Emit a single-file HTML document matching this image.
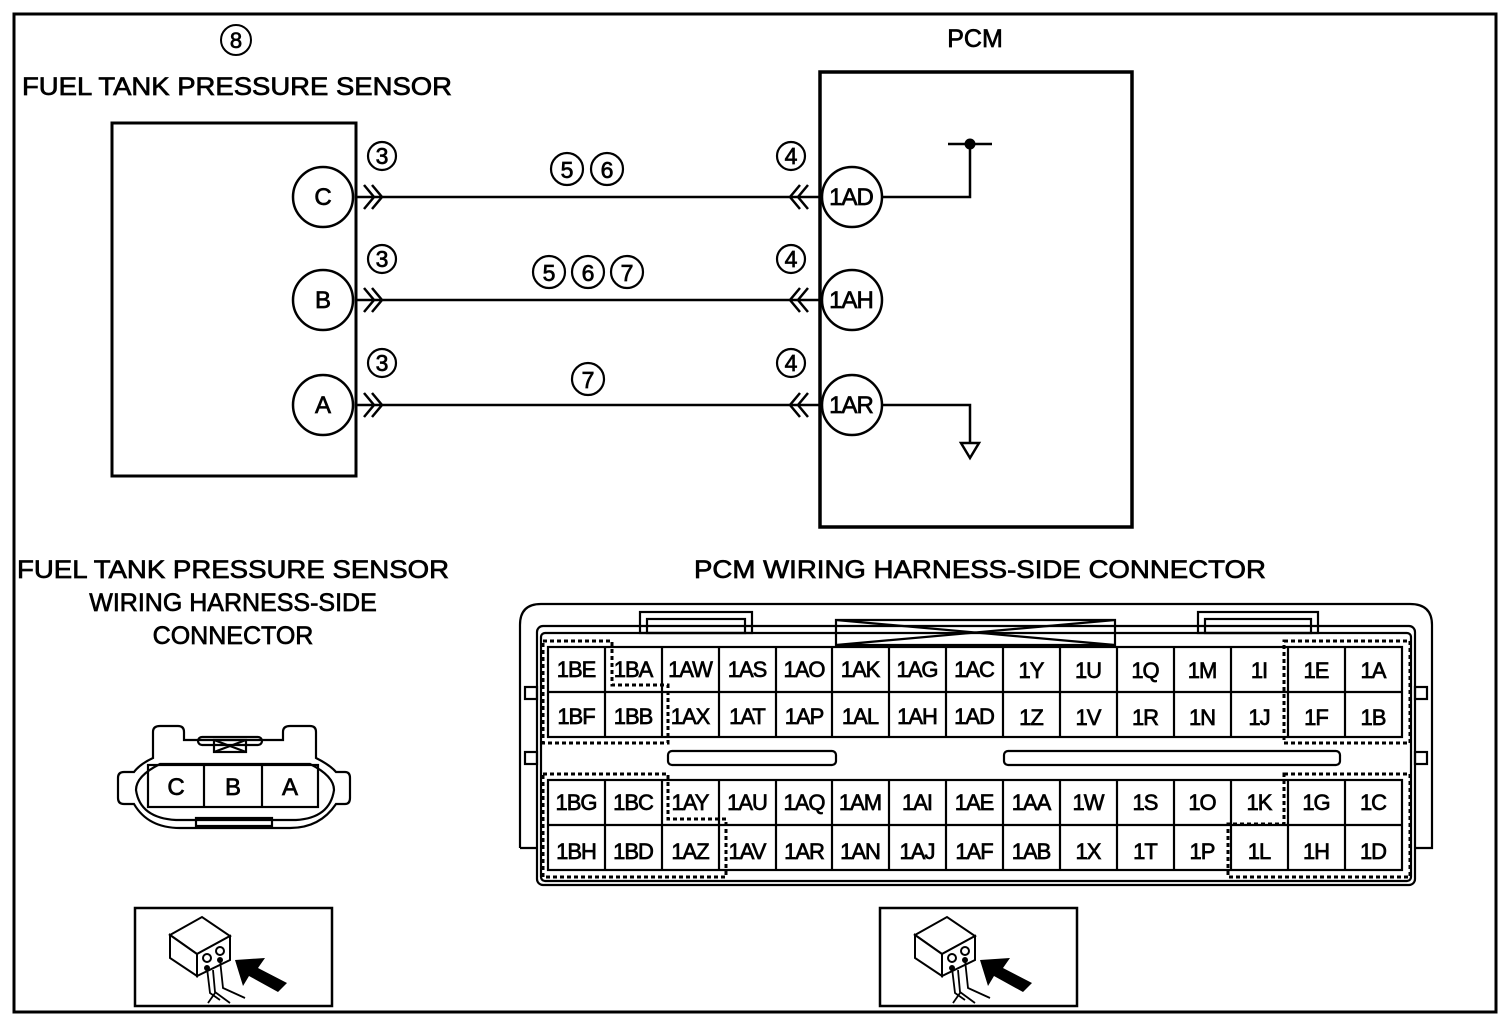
<!DOCTYPE html>
<html><head><meta charset="utf-8"><style>
html,body{margin:0;padding:0;background:#fff}
svg{display:block}
text{font-family:"Liberation Sans",sans-serif;fill:#000;stroke:#000;stroke-width:0.7}
</style></head><body>
<svg width="1510" height="1030" viewBox="0 0 1510 1030" xmlns="http://www.w3.org/2000/svg">
<defs>
<g id="icon">
<rect x="0" y="0" width="197" height="98" fill="#fff" stroke="#000" stroke-width="2.5"/>
<polygon points="35,27 67,9 95,28 62,46" fill="#fff" stroke="#000" stroke-width="2"/>
<polygon points="35,27 62,46 62,68 35,50" fill="#fff" stroke="#000" stroke-width="2"/>
<polygon points="62,46 95,28 95,52 62,68" fill="#fff" stroke="#000" stroke-width="2"/>
<circle cx="72" cy="50" r="4" fill="none" stroke="#000" stroke-width="2"/>
<circle cx="85" cy="43" r="4" fill="none" stroke="#000" stroke-width="2"/>
<circle cx="72" cy="60" r="3" fill="#000"/>
<circle cx="85" cy="52" r="3" fill="#000"/>
<path d="M72,60 L75,85 L85,92 M85,52 L88,80 L110,90 M78,62 L80,84 L95,95 M80,85 L73,95" fill="none" stroke="#000" stroke-width="1.8"/>
<polygon points="100,52 130,50 123,60 152,75 143,84 114,68 108,78" fill="#000"/>
</g>
</defs>
<rect x="14" y="14" width="1482" height="998" fill="none" stroke="#000" stroke-width="3"/>

<circle cx="236" cy="40" r="15" fill="none" stroke="#000" stroke-width="2"/>
<text x="236" y="48" font-size="22" text-anchor="middle">8</text>
<text x="22" y="95" font-size="25" textLength="430" lengthAdjust="spacingAndGlyphs">FUEL TANK PRESSURE SENSOR</text>
<text x="975" y="47" font-size="25" text-anchor="middle">PCM</text>

<rect x="112" y="123" width="244" height="353" fill="none" stroke="#000" stroke-width="3"/>
<rect x="820" y="72" width="312" height="455" fill="none" stroke="#000" stroke-width="3.5"/>

<g stroke="#000" stroke-width="2.5" fill="none">
<line x1="356" y1="197" x2="822" y2="197"/>
<line x1="356" y1="300" x2="822" y2="300"/>
<line x1="356" y1="405" x2="822" y2="405"/>
<path d="M364,185 L374,197 L364,209 M372,185 L382,197 L372,209"/>
<path d="M364,288 L374,300 L364,312 M372,288 L382,300 L372,312"/>
<path d="M364,393 L374,405 L364,417 M372,393 L382,405 L372,417"/>
<path d="M800,185 L790,197 L800,209 M808,185 L798,197 L808,209"/>
<path d="M800,288 L790,300 L800,312 M808,288 L798,300 L808,312"/>
<path d="M800,393 L790,405 L800,417 M808,393 L798,405 L808,417"/>
<path d="M880,197 L970,197 L970,144 M948,144 L992,144"/>
<path d="M880,405 L970,405 L970,442"/>
<polygon points="961,443 979,443 970,458"/>
</g>
<circle cx="970" cy="144" r="5.5" fill="#000"/>

<g fill="#fff" stroke="#000" stroke-width="2.5">
<circle cx="323" cy="197" r="30"/><circle cx="323" cy="300" r="30"/><circle cx="323" cy="405" r="30"/>
<circle cx="852" cy="197" r="30"/><circle cx="852" cy="300" r="30"/><circle cx="852" cy="405" r="30"/>
</g>
<g font-size="24" text-anchor="middle">
<text x="323" y="205">C</text><text x="323" y="308">B</text><text x="323" y="413">A</text>
<text x="851" y="205" letter-spacing="-1">1AD</text><text x="851" y="308" letter-spacing="-1">1AH</text><text x="851" y="413" letter-spacing="-1">1AR</text>
</g>

<g fill="none" stroke="#000" stroke-width="2.2">
<circle cx="382" cy="156" r="14"/><circle cx="382" cy="259" r="14"/><circle cx="382" cy="363" r="14"/>
<circle cx="791" cy="156" r="14"/><circle cx="791" cy="259" r="14"/><circle cx="791" cy="363" r="14"/>
<circle cx="567" cy="169" r="16"/><circle cx="607" cy="169" r="16"/>
<circle cx="549" cy="272" r="16"/><circle cx="588" cy="272" r="16"/><circle cx="627" cy="272" r="16"/>
<circle cx="588" cy="379" r="16"/>
</g>
<g font-size="23" text-anchor="middle">
<text x="382" y="164">3</text><text x="382" y="267">3</text><text x="382" y="371">3</text>
<text x="791" y="164">4</text><text x="791" y="267">4</text><text x="791" y="371">4</text>
<text x="567" y="178">5</text><text x="607" y="178">6</text>
<text x="549" y="281">5</text><text x="588" y="281">6</text><text x="627" y="281">7</text>
<text x="588" y="388">7</text>
</g>

<text x="233" y="578" font-size="25" text-anchor="middle" textLength="432" lengthAdjust="spacingAndGlyphs">FUEL TANK PRESSURE SENSOR</text>
<text x="233" y="611" font-size="25" text-anchor="middle">WIRING HARNESS-SIDE</text>
<text x="233" y="644" font-size="25" text-anchor="middle">CONNECTOR</text>
<text x="980" y="578" font-size="25" text-anchor="middle" textLength="572" lengthAdjust="spacingAndGlyphs">PCM WIRING HARNESS-SIDE CONNECTOR</text>

<g fill="none" stroke="#000" stroke-width="2.2">
<path d="M153,758 L153,732 Q153,726 160,726 L178,726 Q184,726 184,732 L184,740 L283,740 L283,732 Q283,726 290,726 L310,726 Q316,726 316,732 L316,758 Q330,765 336,772 L345,772 Q350,772 350,778 L350,798 Q350,804 345,804 L336,804 Q320,828 290,828 L180,828 Q148,828 134,804 L124,804 Q118,804 118,798 L118,778 Q118,772 124,772 L134,772 Q140,764 153,758 Z"/>
<path d="M160,764 Q136,776 136,790 Q140,818 176,820 L296,820 Q330,818 334,790 Q334,776 310,764 Z"/>
<rect x="148" y="765" width="170" height="42"/>
<line x1="204" y1="765" x2="204" y2="807"/><line x1="262" y1="765" x2="262" y2="807"/>
<rect x="198" y="737" width="64" height="8" rx="4"/>
<rect x="214" y="740" width="32" height="12"/>
<path d="M214,740 L246,752 M246,740 L214,752"/>
<rect x="196" y="818" width="76" height="8"/>
</g>
<g font-size="24" text-anchor="middle">
<text x="176" y="795">C</text><text x="233" y="795">B</text><text x="290" y="795">A</text>
</g>

<g fill="none" stroke="#000" stroke-width="2.2">
<path d="M520,848 L520,625 Q520,604 541,604 L1410,604 Q1432,604 1432,625 L1432,848 L1416,848"/>
<path d="M520,848 L537,848"/>
<rect x="537" y="626" width="878" height="259" rx="6"/>
<rect x="541" y="633" width="870" height="248" rx="4"/>
<rect x="640" y="612" width="112" height="21"/><rect x="647" y="619" width="98" height="14"/>
<rect x="1198" y="612" width="120" height="21"/><rect x="1205" y="619" width="106" height="14"/>
<path d="M836,620 L1115,620 L1115,645 L836,645 Z M836,620 L1115,645 M1115,620 L836,645"/>
<rect x="668" y="751" width="168" height="14" rx="4"/>
<rect x="1004" y="751" width="336" height="14" rx="4"/>
<rect x="525" y="687" width="12" height="12"/><rect x="525" y="752" width="12" height="12"/>
<rect x="1415" y="687" width="12" height="12"/><rect x="1415" y="752" width="12" height="12"/>
<g stroke-width="3" stroke-dasharray="4,3">
<path d="M543,641 L612,641 L612,685 L668,685 L668,743 L543,743 Z"/>
<path d="M543,774 L668,774 L668,819 L726,819 L726,877 L543,877 Z"/>
<path d="M1284,641 L1410,641 L1410,743 L1284,743 Z"/>
<path d="M1284,774 L1410,774 L1410,877 L1228,877 L1228,824 L1284,824 Z"/>
</g>
<rect x="548" y="647" width="854" height="90"/>
<line x1="548" y1="692" x2="1402" y2="692"/>
<rect x="548" y="780" width="854" height="90"/>
<line x1="548" y1="825" x2="1402" y2="825"/>
<path d="M605,647V737 M662,647V737 M719,647V737 M776,647V737 M832,647V737 M889,647V737 M946,647V737 M1003,647V737 M1060,647V737 M1117,647V737 M1174,647V737 M1231,647V737 M1288,647V737 M1345,647V737"/>
<path d="M605,780V870 M662,780V870 M719,780V870 M776,780V870 M832,780V870 M889,780V870 M946,780V870 M1003,780V870 M1060,780V870 M1117,780V870 M1174,780V870 M1231,780V870 M1288,780V870 M1345,780V870"/>
</g>
<g font-size="22" text-anchor="middle" letter-spacing="-1">
<text x="576" y="677">1BE</text><text x="633" y="677">1BA</text><text x="690" y="677">1AW</text><text x="747" y="677">1AS</text><text x="804" y="677">1AO</text><text x="860" y="677">1AK</text><text x="917" y="677">1AG</text><text x="974" y="677">1AC</text><text x="1031" y="678">1Y</text><text x="1088" y="678">1U</text><text x="1145" y="678">1Q</text><text x="1202" y="678">1M</text><text x="1259" y="678">1I</text><text x="1316" y="678">1E</text><text x="1373" y="678">1A</text>
<text x="576" y="724">1BF</text><text x="633" y="724">1BB</text><text x="690" y="724">1AX</text><text x="747" y="724">1AT</text><text x="804" y="724">1AP</text><text x="860" y="724">1AL</text><text x="917" y="724">1AH</text><text x="974" y="724">1AD</text><text x="1031" y="725">1Z</text><text x="1088" y="725">1V</text><text x="1145" y="725">1R</text><text x="1202" y="725">1N</text><text x="1259" y="725">1J</text><text x="1316" y="725">1F</text><text x="1373" y="725">1B</text>
<text x="576" y="810">1BG</text><text x="633" y="810">1BC</text><text x="690" y="810">1AY</text><text x="747" y="810">1AU</text><text x="804" y="810">1AQ</text><text x="860" y="810">1AM</text><text x="917" y="810">1AI</text><text x="974" y="810">1AE</text><text x="1031" y="810">1AA</text><text x="1088" y="810">1W</text><text x="1145" y="810">1S</text><text x="1202" y="810">1O</text><text x="1259" y="810">1K</text><text x="1316" y="810">1G</text><text x="1373" y="810">1C</text>
<text x="576" y="859">1BH</text><text x="633" y="859">1BD</text><text x="690" y="859">1AZ</text><text x="747" y="859">1AV</text><text x="804" y="859">1AR</text><text x="860" y="859">1AN</text><text x="917" y="859">1AJ</text><text x="974" y="859">1AF</text><text x="1031" y="859">1AB</text><text x="1088" y="859">1X</text><text x="1145" y="859">1T</text><text x="1202" y="859">1P</text><text x="1259" y="859">1L</text><text x="1316" y="859">1H</text><text x="1373" y="859">1D</text>
</g>

<use href="#icon" x="135" y="908"/>
<use href="#icon" x="880" y="908"/>
</svg>
</body></html>
